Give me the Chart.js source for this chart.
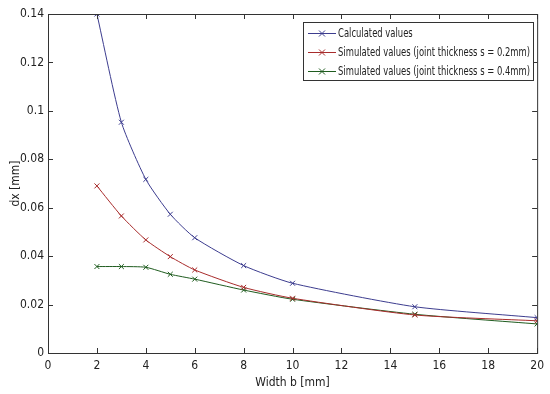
<!DOCTYPE html>
<html>
<head>
<meta charset="utf-8">
<script src="https://cdn.jsdelivr.net/npm/chart.js@4.4.1/dist/chart.umd.min.js"></script>
<style>
  html, body { margin: 0; padding: 0; background: #fff; }
  #wrap { width: 550px; height: 394px; }
</style>
</head>
<body>
<div id="wrap"><canvas id="c"></canvas></div>
<script>
// data
const widths = [2, 3, 4, 5, 6, 8, 10, 15, 20];
const calculated = [0.140, 0.0953, 0.0717, 0.0573, 0.0476, 0.0361, 0.0288, 0.0191, 0.0146];
const simulated02 = [0.0690, 0.0566, 0.0467, 0.0398, 0.0343, 0.0271, 0.0226, 0.0157, 0.0133];
const simulated04 = [0.0357, 0.0357, 0.0354, 0.0325, 0.0305, 0.0260, 0.0222, 0.0160, 0.0120];
const xTicks = [0, 2, 4, 6, 8, 10, 12, 14, 16, 18, 20];
const yTicks = [0, 0.02, 0.04, 0.06, 0.08, 0.1, 0.12, 0.14];
const seriesNames = [
    'Calculated values',
    'Simulated values (joint thickness s = 0.2mm)',
    'Simulated values (joint thickness s = 0.4mm)'
];
const seriesColors = ['#3d3d8f', '#a82c2c', '#1f5c1f'];

const FONT = '"DejaVu Sans Condensed", "Liberation Sans Narrow", "Liberation Sans", Arial, sans-serif';

function toPoints(ys) {
    return widths.map((x, i) => ({ x: x, y: ys[i] }));
}

// MATLAB style box with inward ticks on all four sides
const boxPlugin = {
    id: 'box',
    afterDatasetsDraw(chart) {
        const { ctx, chartArea: a, scales } = chart;
        ctx.save();
        ctx.strokeStyle = '#333';
        ctx.lineWidth = 1;
        ctx.strokeRect(a.left + 0.5, a.top + 0.5, a.right - a.left, a.bottom - a.top);
        ctx.beginPath();
        xTicks.forEach(v => {
            const px = Math.round(scales.x.getPixelForValue(v)) + 0.5;
            ctx.moveTo(px, a.bottom); ctx.lineTo(px, a.bottom - 5);
            ctx.moveTo(px, a.top); ctx.lineTo(px, a.top + 5);
        });
        yTicks.forEach(v => {
            const py = Math.round(scales.y.getPixelForValue(v)) + 0.5;
            ctx.moveTo(a.left, py); ctx.lineTo(a.left + 5, py);
            ctx.moveTo(a.right, py); ctx.lineTo(a.right - 5, py);
        });
        ctx.stroke();
        ctx.restore();
    }
};

// legend box drawn inside the plot, top right
const legendPlugin = {
    id: 'boxLegend',
    afterDraw(chart) {
        const ctx = chart.ctx;
        const x0 = 303, y0 = 22, w = 230, h = 58, rowH = 19;
        ctx.save();
        ctx.fillStyle = '#fff';
        ctx.fillRect(x0, y0, w, h);
        ctx.strokeStyle = '#333';
        ctx.lineWidth = 1;
        ctx.strokeRect(x0 + 0.5, y0 + 0.5, w, h);
        ctx.font = '13px ' + FONT;
        ctx.textBaseline = 'middle';
        const textX = x0 + 35;
        const avail = x0 + w - 3 - textX;
        const widest = Math.max(...seriesNames.map(n => ctx.measureText(n).width));
        const sx = Math.min(1, avail / widest);
        seriesNames.forEach((name, i) => {
            const cy = y0 + 11 + i * rowH + 0.5;
            ctx.strokeStyle = seriesColors[i];
            ctx.beginPath();
            ctx.moveTo(x0 + 5, cy); ctx.lineTo(x0 + 33, cy);
            ctx.moveTo(x0 + 16, cy - 3); ctx.lineTo(x0 + 22, cy + 3);
            ctx.moveTo(x0 + 16, cy + 3); ctx.lineTo(x0 + 22, cy - 3);
            ctx.stroke();
            ctx.save();
            ctx.translate(textX, cy);
            ctx.scale(sx, 1);
            ctx.fillStyle = '#222';
            ctx.fillText(name, 0, 0);
            ctx.restore();
        });
        ctx.restore();
    }
};

function makeDataset(i, ys) {
    return {
        label: seriesNames[i],
        data: toPoints(ys),
        borderColor: seriesColors[i],
        backgroundColor: seriesColors[i],
        borderWidth: 1,
        pointStyle: 'crossRot',
        pointRadius: 3.5,
        pointBorderWidth: 1,
        tension: 0.2,
        fill: false
    };
}

new Chart(document.getElementById('c'), {
    type: 'line',
    data: {
        datasets: [
            makeDataset(0, calculated),
            makeDataset(1, simulated02),
            makeDataset(2, simulated04)
        ]
    },
    options: {
        responsive: true,
        maintainAspectRatio: false,
        animation: false,
        layout: { padding: { top: 14, right: 7, left: 0, bottom: 0 } },
        plugins: {
            legend: { display: false },
            tooltip: { enabled: false }
        },
        scales: {
            x: {
                type: 'linear',
                min: 0,
                max: 20,
                afterBuildTicks: s => { s.ticks = xTicks.map(v => ({ value: v })); },
                grid: { drawOnChartArea: false, drawTicks: false },
                border: { display: false },
                ticks: {
                    color: '#222',
                    font: { family: FONT, size: 12 },
                    padding: 6,
                    maxRotation: 0,
                    callback: v => String(v)
                },
                title: {
                    display: true,
                    text: 'Width b [mm]',
                    color: '#222',
                    font: { family: FONT, size: 12 },
                    padding: { top: 2 }
                },
                afterFit: s => { s.height = 41; }
            },
            y: {
                min: 0,
                max: 0.14,
                afterBuildTicks: s => { s.ticks = yTicks.map(v => ({ value: v })); },
                grid: { drawOnChartArea: false, drawTicks: false },
                border: { display: false },
                ticks: {
                    color: '#222',
                    font: { family: FONT, size: 12 },
                    padding: 4,
                    callback: v => String(parseFloat(v.toFixed(2)))
                },
                title: {
                    display: true,
                    text: 'dx [mm]',
                    color: '#222',
                    font: { family: FONT, size: 12 },
                    padding: { top: 9, bottom: 0 }
                },
                afterFit: s => { s.width = 48; }
            }
        }
    },
    plugins: [boxPlugin, legendPlugin]
});
</script>
</body>
</html>
